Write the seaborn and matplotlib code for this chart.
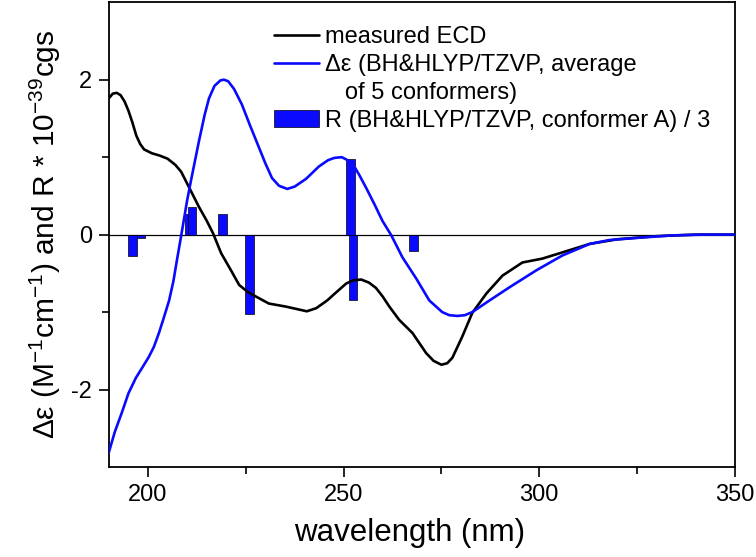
import matplotlib
matplotlib.use("Agg")
import matplotlib.pyplot as plt
import seaborn as sns
import pandas as pd
from matplotlib.lines import Line2D
from matplotlib.patches import Patch

# ── data ─────────────────────────────────────────────────────────────────────
exp_wl = [190, 191, 192, 193, 194, 195, 196, 197, 198, 199, 201, 203, 205,
          207, 208.5, 210.5, 213, 215, 216.6, 218.7, 221.2, 223.3, 225.5,
          227.6, 230.9, 235.3, 240.6, 243, 245.8, 248, 250.7, 252.5, 254.5,
          256.5, 258.3, 260, 261.7, 264.2, 267.6, 271.1, 273, 275, 276.5,
          277.8, 280.3, 282.9, 286.5, 290.6, 295.7, 300.8, 305.9, 312.9,
          320, 330, 340, 350]
exp_de = [1.76, 1.82, 1.83, 1.80, 1.72, 1.60, 1.45, 1.28, 1.17, 1.10, 1.05,
          1.02, 0.98, 0.90, 0.81, 0.61, 0.36, 0.18, 0.02, -0.24, -0.46,
          -0.65, -0.74, -0.80, -0.89, -0.93, -0.99, -0.95, -0.85, -0.75,
          -0.63, -0.59, -0.58, -0.62, -0.69, -0.80, -0.93, -1.10, -1.27,
          -1.53, -1.63, -1.68, -1.66, -1.59, -1.32, -1.01, -0.76, -0.53,
          -0.36, -0.31, -0.23, -0.12, -0.06, -0.02, 0.0, 0.0]

calc_wl = [190, 191.5, 193.3, 195, 196.9, 198.5, 200.2, 201.5, 202.8, 204,
           205.4, 206.5, 207.4, 208.7, 210, 211, 212, 213, 214.5, 215.6, 217,
           218.5, 219.4, 220.5, 222, 224, 226, 228.4, 230, 231.7, 233.5,
           235.6, 237.5, 240.4, 243.7, 246, 247.6, 249.5, 250.7, 252.5, 254,
           255.8, 258, 259.9, 262.2, 265, 268.6, 271.9, 275.2, 277, 279.1,
           281, 282.9, 287.3, 292.4, 299.3, 305.9, 312.9, 318, 325.6, 334,
           342, 350]
calc_de = [-2.81, -2.55, -2.30, -2.05, -1.85, -1.72, -1.58, -1.45, -1.27,
           -1.08, -0.85, -0.60, -0.33, 0.05, 0.44, 0.70, 0.95, 1.20, 1.55,
           1.76, 1.92, 1.99, 2.00, 1.98, 1.88, 1.68, 1.42, 1.12, 0.92, 0.73,
           0.63, 0.59, 0.62, 0.72, 0.88, 0.96, 0.99, 1.00, 0.97, 0.90, 0.77,
           0.60, 0.38, 0.18, -0.01, -0.29, -0.57, -0.85, -1.00, -1.04, -1.05,
           -1.04, -1.00, -0.85, -0.68, -0.46, -0.27, -0.12, -0.07, -0.04,
           -0.01, 0.0, 0.0]

# rotational strengths of conformer A (divided by 3)
stick_wl = [196.1, 198.2, 210.5, 211.2, 219.05, 225.96, 251.8, 252.4, 267.9]
stick_r = [-0.27, -0.04, 0.27, 0.35, 0.26, -1.02, 0.97, -0.84, -0.21]

labels = ["measured ECD",
          "\u0394\u03b5 (BH&HLYP/TZVP, average",
          "   of 5 conformers)",
          "R (BH&HLYP/TZVP, conformer A) / 3"]

exp_df = pd.DataFrame({"wl": exp_wl, "de": exp_de})
calc_df = pd.DataFrame({"wl": calc_wl, "de": calc_de})

# ── style ────────────────────────────────────────────────────────────────────
sns.set_style("white")
plt.rcParams["font.family"] = ["Liberation Sans", "DejaVu Sans"]
plt.rcParams["mathtext.default"] = "regular"
plt.rcParams["axes.unicode_minus"] = False
plt.rcParams["text.color"] = "black"
plt.rcParams["axes.labelcolor"] = "black"
plt.rcParams["xtick.color"] = "black"
plt.rcParams["ytick.color"] = "black"

BLUE = "#0a0aff"

fig = plt.figure(figsize=(7.56, 5.57), dpi=100)
ax = fig.add_axes([0.144, 0.1616, 0.828, 0.8344])

ax.axhline(0, color="black", linewidth=0.9, zorder=1)
ax.bar(stick_wl, stick_r, width=2.2, color=BLUE, edgecolor="black",
       linewidth=0.5, zorder=2)
sns.lineplot(data=exp_df, x="wl", y="de", ax=ax, color="black",
             linewidth=1.9, estimator=None, sort=False, zorder=3)
sns.lineplot(data=calc_df, x="wl", y="de", ax=ax, color=BLUE,
             linewidth=1.9, estimator=None, sort=False, zorder=3)

ax.set_xlim(190, 350)
ax.set_ylim(-3, 3)
ax.set_xticks([200, 250, 300, 350])
ax.set_xticks([225, 275, 325], minor=True)
ax.set_yticks([-2, 0, 2])
ax.set_yticks([-1, 1], minor=True)
ax.tick_params(axis="both", which="major", direction="out", length=7,
               width=1.2, labelsize=17, pad=5, bottom=True, left=True)
ax.tick_params(axis="both", which="minor", direction="out", length=5,
               width=1.2, bottom=True, left=True)
for s in ax.spines.values():
    s.set_linewidth(1.3)
    s.set_color("black")

ax.set_xlabel("wavelength (nm)", fontsize=22.5, labelpad=6)
ax.xaxis.set_label_coords(0.48, -0.11)
ax.set_ylabel("\u0394\u03b5 (M$^{-1}$cm$^{-1}$) and R * 10$^{-39}$cgs",
              fontsize=21.5, labelpad=6)

handles = [Line2D([], [], color="black", linewidth=1.9),
           Line2D([], [], color=BLUE, linewidth=1.9),
           Line2D([], [], color="none"),
           Patch(facecolor=BLUE, edgecolor="black", linewidth=0.5)]
ax.legend(handles, labels, loc="upper left", bbox_to_anchor=(0.2636, 0.948),
          frameon=False, fontsize=17, borderpad=0, borderaxespad=0,
          handlelength=1.9, handletextpad=0.25, handleheight=0.72,
          labelspacing=0.25)

fig.savefig("out.png", dpi=100)
